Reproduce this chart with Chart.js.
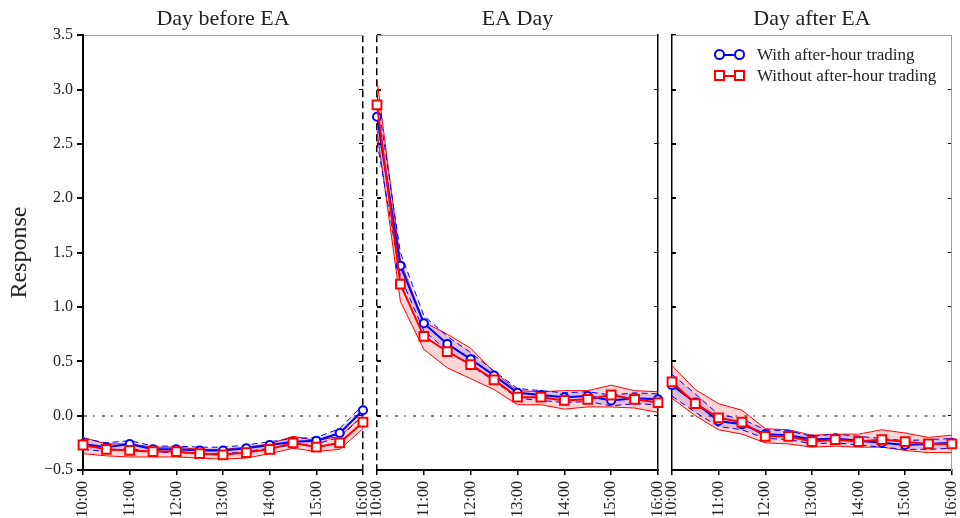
<!DOCTYPE html>
<html>
<head>
<meta charset="utf-8">
<title>Response around earnings announcements</title>
<script src="https://cdn.jsdelivr.net/npm/chart.js@4.4.1/dist/chart.umd.min.js"></script>
<style>
  body { margin: 0; background: #fff; }
  #wrap { position: relative; width: 960px; height: 518px; overflow: hidden; }
  #wrap canvas { position: absolute; left: 0; top: 0; }
  #legend { position: absolute; left: 714px; top: 44px; font: 17px 'Liberation Serif', serif; color: #222; }
  .item { display: flex; align-items: center; height: 21px; }
  .sample { position: relative; width: 31px; height: 11px; margin-right: 12px; }
  .sample .bar { position: absolute; left: 5px; right: 5px; top: 4.5px; height: 2px; }
  .sample .mk { position: absolute; top: 0; width: 7px; height: 7px; border: 2px solid; background: #fff; }
</style>
</head>
<body>
<div id="wrap">
  <canvas id="before" width="960" height="518"></canvas>
  <canvas id="eaday" width="960" height="518"></canvas>
  <canvas id="after" width="960" height="518"></canvas>
  <div id="legend"></div>
</div>
<script>
// half-hour grid of the trading day
const times = ['10:00', '10:30', '11:00', '11:30', '12:00', '12:30', '13:00',
               '13:30', '14:00', '14:30', '15:00', '15:30', '16:00'];

// y axis range / tick step
const yMin = -0.5, yMax = 3.5, yStep = 0.5;

// --- day before EA ---
const beforeWith     = [-0.26, -0.29, -0.26, -0.31, -0.31, -0.32, -0.32, -0.30, -0.27, -0.24, -0.23, -0.16, 0.05];
const beforeWithLo   = [-0.31, -0.33, -0.30, -0.34, -0.34, -0.35, -0.35, -0.33, -0.30, -0.27, -0.26, -0.20, 0.00];
const beforeWithHi   = [-0.21, -0.25, -0.23, -0.28, -0.28, -0.29, -0.29, -0.27, -0.24, -0.21, -0.20, -0.12, 0.10];
const beforeWithout   = [-0.27, -0.31, -0.32, -0.33, -0.33, -0.35, -0.36, -0.34, -0.31, -0.25, -0.29, -0.25, -0.06];
const beforeWithoutLo = [-0.35, -0.37, -0.38, -0.38, -0.38, -0.39, -0.40, -0.39, -0.35, -0.30, -0.33, -0.31, -0.12];
const beforeWithoutHi = [-0.20, -0.26, -0.26, -0.29, -0.29, -0.31, -0.31, -0.29, -0.26, -0.19, -0.23, -0.19, 0.00];

// --- EA day ---
const eaWith     = [2.75, 1.38, 0.85, 0.66, 0.52, 0.37, 0.21, 0.19, 0.17, 0.18, 0.14, 0.16, 0.15];
const eaWithLo   = [2.52, 1.28, 0.78, 0.60, 0.46, 0.32, 0.16, 0.14, 0.12, 0.13, 0.09, 0.11, 0.10];
const eaWithHi   = [2.95, 1.50, 0.92, 0.73, 0.58, 0.41, 0.25, 0.23, 0.21, 0.22, 0.19, 0.21, 0.20];
const eaWithout   = [2.86, 1.21, 0.73, 0.59, 0.47, 0.33, 0.17, 0.17, 0.14, 0.15, 0.19, 0.15, 0.12];
const eaWithoutLo = [2.62, 1.05, 0.61, 0.44, 0.34, 0.24, 0.10, 0.10, 0.06, 0.08, 0.08, 0.07, 0.03];
const eaWithoutHi = [3.09, 1.42, 0.86, 0.75, 0.62, 0.40, 0.23, 0.22, 0.23, 0.23, 0.28, 0.23, 0.22];

// --- day after EA ---
const afterWith     = [0.28, 0.12, -0.05, -0.08, -0.17, -0.18, -0.22, -0.21, -0.23, -0.25, -0.27, -0.26, -0.25];
const afterWithLo   = [0.18, 0.03, -0.10, -0.13, -0.21, -0.22, -0.26, -0.25, -0.27, -0.29, -0.31, -0.31, -0.30];
const afterWithHi   = [0.38, 0.20, 0.01, -0.03, -0.13, -0.14, -0.19, -0.17, -0.19, -0.21, -0.23, -0.22, -0.21];
const afterWithout   = [0.31, 0.11, -0.02, -0.06, -0.19, -0.19, -0.24, -0.22, -0.24, -0.22, -0.24, -0.26, -0.26];
const afterWithoutLo = [0.16, 0.00, -0.13, -0.17, -0.25, -0.26, -0.29, -0.28, -0.29, -0.29, -0.32, -0.34, -0.34];
const afterWithoutHi = [0.46, 0.24, 0.11, 0.05, -0.12, -0.13, -0.18, -0.17, -0.17, -0.13, -0.16, -0.20, -0.18];

const BLUE = '#0000ff';
const RED = '#ff0000';
const INK = '#222';
const NONE = 'rgba(0,0,0,0)';

Chart.defaults.font.family = "'Liberation Serif', 'DejaVu Serif', serif";
Chart.defaults.color = INK;

// confidence band = two edge lines, the upper one filled down to the lower one
function band(lo, hi, color, fill, dash, order) {
    const base = { borderColor: color, borderWidth: 1, borderDash: dash, pointRadius: 0, tension: 0, order: order };
    return [
        Object.assign({ data: lo, fill: false }, base),
        Object.assign({ data: hi, fill: '-1', backgroundColor: fill }, base)
    ];
}

function createPanel(id, cfg) {
    const showY = cfg.showY;
    const datasets = [
        ...band(cfg.withoutLo, cfg.withoutHi, RED, 'rgba(255,0,0,0.17)', [], 5),
        ...band(cfg.withLo, cfg.withHi, BLUE, 'rgba(0,0,255,0.12)', [6, 4], 4),
        {
            label: 'With after-hour trading', data: cfg.withMean, inLegend: true,
            borderColor: BLUE, borderWidth: 2, pointStyle: 'circle', pointRadius: 4,
            pointBorderWidth: 2, pointBackgroundColor: '#fff', pointBorderColor: BLUE, fill: false, order: 1
        },
        {
            label: 'Without after-hour trading', data: cfg.withoutMean, inLegend: true,
            borderColor: RED, borderWidth: 2, pointStyle: 'rect', pointRadius: 6.2,
            pointBorderWidth: 2, pointBackgroundColor: '#fff', pointBorderColor: RED, fill: false, order: 0
        }
    ];

    return new Chart(document.getElementById(id), {
        type: 'line',
        data: { labels: times, datasets: datasets },
        options: {
            responsive: false,
            animation: false,
            events: [],
            layout: { padding: { left: cfg.left, right: 960 - cfg.right, top: 0, bottom: 0 } },
            plugins: {
                legend: { display: false },
                tooltip: { enabled: false },
                title: {
                    display: true, text: cfg.title, fullSize: false, color: INK,
                    font: { size: 22, weight: 'normal', lineHeight: 1.1 },
                    padding: { top: 7, bottom: 4 }
                }
            },
            scales: {
                x: {
                    type: 'category',
                    ticks: {
                        autoSkip: false, minRotation: 90, maxRotation: 90, padding: 6,
                        font: { size: 16 }, color: INK,
                        callback: (v, i) => (i % 2 === 0 ? times[i] : null)
                    },
                    grid: {
                        drawOnChartArea: cfg.eaLine !== null,
                        color: c => (c.tick && c.tick.value === cfg.eaLine ? '#000' : NONE),
                        lineWidth: 1.5,
                        tickLength: 5,
                        tickColor: c => (c.tick && c.tick.value % 2 === 0 ? '#000' : NONE)
                    },
                    border: { color: '#000', width: 2, dash: [7, 4] },
                    // labels may hang past the panel edge, the plot area keeps its width
                    afterFit: s => { s.height = 48; s.paddingLeft = 0; s.paddingRight = 0; }
                },
                x2: {
                    type: 'category', position: 'top',
                    ticks: { display: false },
                    grid: { display: false },
                    border: { color: '#a0a0a0', width: 1 },
                    afterFit: s => { s.height = 0; s.paddingLeft = 0; s.paddingRight = 0; }
                },
                y: {
                    min: yMin, max: yMax,
                    ticks: {
                        stepSize: yStep, display: showY, padding: 4, font: { size: 16 }, color: INK,
                        callback: v => v.toFixed(1).replace('-', '\u2212')
                    },
                    title: {
                        display: showY, text: 'Response', color: INK,
                        font: { size: 24 }, padding: { top: 5, bottom: 0 }
                    },
                    grid: {
                        color: c => (c.tick && Math.abs(c.tick.value) < 1e-9 ? '#7f7f7f' : NONE),
                        lineWidth: 2,
                        tickLength: showY ? 6 : -4,
                        tickColor: '#000'
                    },
                    border: {
                        display: !!cfg.leftBorder, color: cfg.leftBorder || '#000',
                        width: showY ? 2 : 1.5, dash: [3, 6, 1.5, 7.5]
                    },
                    afterFit: s => { s.width = showY ? 83 : 0; }
                },
                y2: {
                    position: 'right', min: yMin, max: yMax,
                    ticks: { stepSize: yStep, display: false },
                    grid: { drawOnChartArea: false, tickLength: -4, tickColor: '#000' },
                    border: {
                        display: !!cfg.rightBorder, color: cfg.rightBorder || '#000',
                        width: cfg.rightBorder === '#000' ? 1.5 : 1
                    },
                    afterFit: s => { s.width = 0; }
                }
            }
        }
    });
}

createPanel('before', {
    title: 'Day before EA', left: 0, right: 363, showY: true, eaLine: 12,
    leftBorder: '#000', rightBorder: null,
    withMean: beforeWith, withLo: beforeWithLo, withHi: beforeWithHi,
    withoutMean: beforeWithout, withoutLo: beforeWithoutLo, withoutHi: beforeWithoutHi
});

createPanel('eaday', {
    title: 'EA Day', left: 377, right: 658, showY: false, eaLine: 0,
    leftBorder: null, rightBorder: '#000',
    withMean: eaWith, withLo: eaWithLo, withHi: eaWithHi,
    withoutMean: eaWithout, withoutLo: eaWithoutLo, withoutHi: eaWithoutHi
});

const afterChart = createPanel('after', {
    title: 'Day after EA', left: 672, right: 953, showY: false, eaLine: null,
    leftBorder: '#000', rightBorder: '#a0a0a0',
    withMean: afterWith, withLo: afterWithLo, withHi: afterWithHi,
    withoutMean: afterWithout, withoutLo: afterWithoutLo, withoutHi: afterWithoutHi
});

// legend: marker - line - marker, then the series name
function buildLegend(chart) {
    const box = document.getElementById('legend');
    chart.data.datasets.filter(d => d.inLegend).forEach(d => {
        const round = d.pointStyle === 'circle' ? 'border-radius:50%;' : '';
        const item = document.createElement('div');
        item.className = 'item';
        item.innerHTML =
            `<span class="sample">` +
            `<span class="bar" style="background:${d.borderColor}"></span>` +
            `<span class="mk" style="left:0;border-color:${d.borderColor};${round}"></span>` +
            `<span class="mk" style="right:0;border-color:${d.borderColor};${round}"></span>` +
            `</span><span>${d.label}</span>`;
        box.appendChild(item);
    });
}
buildLegend(afterChart);
</script>
</body>
</html>
